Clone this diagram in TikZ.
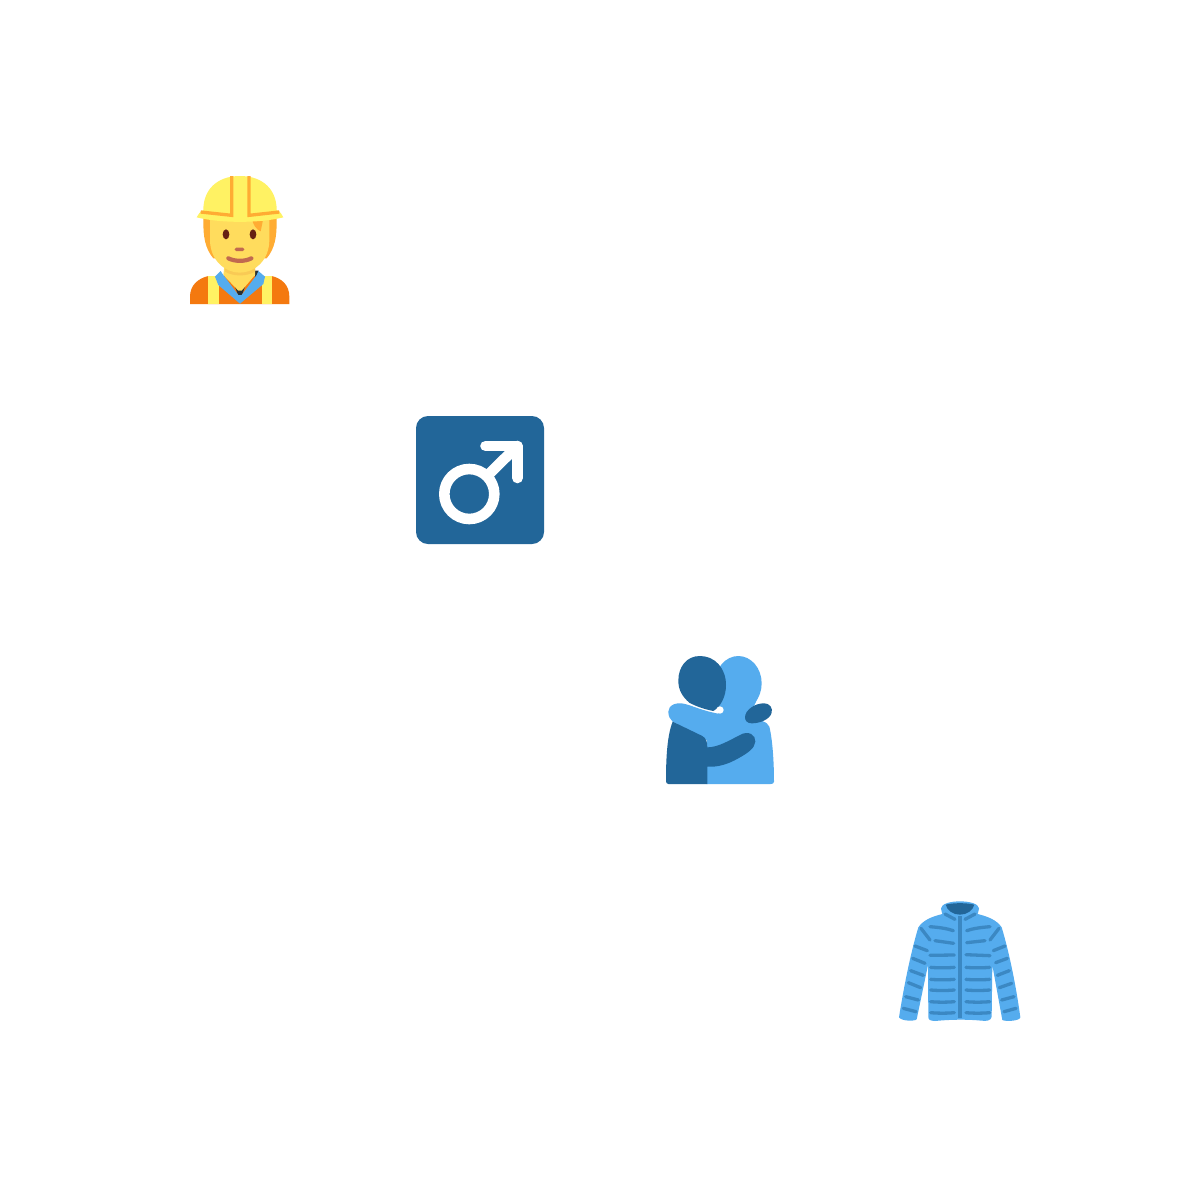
\documentclass[tikz,border=0pt]{standalone}
\usepackage{tikz}
\definecolor{helmetyellow}{HTML}{FFF263}
\definecolor{hairorange}{HTML}{FFAC33}
\definecolor{skinyellow}{HTML}{FFDC5D}
\definecolor{chinshade}{HTML}{F9CA55}
\definecolor{vestorange}{HTML}{F4790F}
\definecolor{eyebrown}{HTML}{662113}
\definecolor{lipbrown}{HTML}{C1694F}
\definecolor{shirtdark}{HTML}{292F33}
\definecolor{darkblue}{HTML}{226699}
\definecolor{lightblue}{HTML}{55ACEE}
\definecolor{jacketline}{HTML}{3B88C3}
\tikzset{%
    icon/.style={shift={#1},scale=1/3},
    stripe/.style={draw=hairorange, line width=3.3pt},
    seam/.style={draw=jacketline, line width=3.3pt, line cap=round},
    sign/.style={draw=white, line width=10.6pt, line cap=round, line join=round}
}

\begin{document}
\begin{tikzpicture}[x=1pt,y=-1pt]
		\useasboundingbox (0,0) rectangle (1200,1200);
		\fill[white] (0,0) rectangle (1200,1200);

		% worker
		\begin{scope}[icon={(170,160)}]
			\fill[vestorange] (60,432) -- (60,410) .. controls (60,375) and (85,355) .. (115,348) -- (305,348) .. controls (335,355) and (358,375) .. (358,410) -- (358,432) -- cycle;
			\fill[helmetyellow] (113,348) rectangle (146,432);
			\fill[helmetyellow] (275,348) rectangle (307,432);
			\fill[shirtdark] (195,380) -- (225,380) -- (215,408) -- (205,408) -- cycle;
			\fill[shirtdark] (250,332) -- (266,332) -- (258,358) -- cycle;
			\fill[skinyellow] (165,300) -- (255,300) -- (255,345) -- (215,392) -- (205,392) -- (160,345) -- cycle;
			\fill[lightblue] (135,350) -- (152,333) -- (160,345) -- (205,405) -- (215,405) -- (260,345) -- (265,333) -- (285,350) -- (280,372) -- (210,431) -- (145,375) -- cycle;
			\fill[hairorange] (100,165) -- (100,185) .. controls (100,230) and (105,265) .. (130,295) -- (290,295) .. controls (315,265) and (320,230) .. (320,185) -- (320,165) -- cycle;
			\fill[chinshade] (165,325) -- (255,325) -- (255,335) .. controls (230,350) and (190,350) .. (165,335) -- cycle;
			\fill[skinyellow] (120,165) -- (120,240) .. controls (120,300) and (165,338) .. (209,338) .. controls (255,338) and (298,300) .. (298,240) -- (298,165) -- cycle;
			\fill[hairorange] (245,175) .. controls (250,195) and (258,208) .. (272,214) -- (280,175) -- cycle;
			\fill[eyebrown] (168,223) ellipse (10 and 15);
			\fill[eyebrown] (249,223) ellipse (10 and 15);
			\fill[lipbrown, rounded corners=1.5pt] (194,263) rectangle (223,273);
			\draw[draw=lipbrown, line width=4.2pt, line cap=round] (175,295) .. controls (195,305) and (225,305) .. (244,295);
			\fill[helmetyellow] (80,172) .. controls (85,162) and (90,155) .. (100,150) .. controls (100,90) and (140,48) .. (210,48) .. controls (280,48) and (320,90) .. (320,150) .. controls (330,155) and (336,162) .. (340,172) .. controls (270,190) and (150,190) .. (80,172) -- cycle;
			\draw[stripe] (185,48) -- (185,166) -- (92,156);
			\draw[stripe] (237,48) -- (237,166) -- (328,156);
		\end{scope}

		% male sign
		\fill[darkblue, rounded corners=12pt] (416,416) rectangle (544,544);
		\draw[sign] (469.3,494) circle (25);
		\draw[sign] (487,476) -- (517.4,446);
		\draw[sign] (485.5,446) -- (517.4,446) -- (517.4,478);

		% people hugging
		\begin{scope}[icon={(650,640)}]
			\fill[lightblue] (265,130) ellipse (70 and 82);
			\fill[lightblue] (205,150) -- (325,170) -- (295,235) -- (205,235) -- cycle;
			\fill[lightblue] (55,215) .. controls (55,195) and (80,185) .. (105,192) .. controls (130,198) and (155,212) .. (210,222) -- (300,232) .. controls (330,240) and (352,245) .. (358,260) .. controls (368,300) and (372,370) .. (372,425) .. controls (372,430) and (368,432) .. (362,432) -- (170,432) -- (170,300) -- (68,245) .. controls (60,238) and (55,228) .. (55,215) -- cycle;
			\fill[darkblue] (55,432) .. controls (50,432) and (48,428) .. (48,422) .. controls (48,350) and (52,285) .. (68,245) -- (155,287) .. controls (168,293) and (172,305) .. (172,322) .. controls (205,322) and (240,300) .. (270,285) .. controls (295,270) and (318,285) .. (316,305) .. controls (314,325) and (295,338) .. (265,355) .. controls (235,372) and (205,382) .. (172,380) -- (172,432) -- cycle;
			\fill[darkblue] (150,48) .. controls (195,48) and (228,85) .. (228,135) .. controls (228,170) and (212,200) .. (190,213) .. controls (165,208) and (140,200) .. (118,188) .. controls (97,170) and (85,150) .. (85,122) .. controls (85,80) and (110,48) .. (150,48) -- cycle;
			\fill[white] (210,210) circle (11);
			\fill[darkblue] (285,232) .. controls (285,210) and (315,190) .. (340,190) .. controls (362,190) and (368,205) .. (365,218) .. controls (360,238) and (330,250) .. (305,250) .. controls (292,250) and (285,242) .. (285,232) -- cycle;
		\end{scope}

		% jacket
		\begin{scope}[icon={(885,890)}]
			\fill[lightblue] (168,55) .. controls (170,27) and (280,27) .. (282,55) .. controls (282,62) and (278,68) .. (278,72) .. controls (310,80) and (335,90) .. (350,112) .. controls (375,195) and (395,300) .. (406,382) .. controls (405,392) and (365,396) .. (352,390) -- (322,225) -- (320,380) .. controls (318,392) and (305,394) .. (290,392) .. controls (250,388) and (200,388) .. (150,393) .. controls (135,392) and (130,390) .. (130,380) -- (129,225) -- (95,388) .. controls (90,394) and (50,394) .. (42,382) .. controls (55,300) and (75,195) .. (100,112) .. controls (115,90) and (140,80) .. (172,72) .. controls (172,68) and (168,62) .. (168,55) -- cycle;
			\fill[darkblue] (182,44) .. controls (205,38) and (245,38) .. (268,44) .. controls (264,62) and (245,74) .. (225,74) .. controls (205,74) and (186,62) .. (182,44) -- cycle;
			\draw[seam, line width=4pt, line cap=butt] (225,78) -- (225,384);
			\draw[seam] (180,72) -- (210,88);
			\draw[seam] (270,72) -- (240,88);
			\draw[seam] (135,110) .. controls (160,112) and (185,115) .. (205,122);
			\draw[seam] (315,110) .. controls (290,112) and (265,115) .. (245,122);
			\draw[seam] (150,152) -- (206,160);
			\draw[seam] (300,152) -- (245,158);
			\draw[seam] (135,196) -- (208,195);
			\draw[seam] (243,194) -- (315,197);
			\foreach \rowy in {232,268,300,335,368} {
				\draw[seam] (137,\rowy) .. controls (160,\rowy+2) and (185,\rowy+2) .. (208,\rowy);
				\draw[seam] (243,\rowy) .. controls (265,\rowy+2) and (290,\rowy+2) .. (314,\rowy);
			}
			\draw[seam] (108,115) -- (135,150);
			\draw[seam] (342,115) -- (315,150);
			\foreach \ax/\ay/\bx/\by in {90/168/127/182,83/205/120/220,77/242/115/256,70/278/107/293,62/320/100/330,55/355/93/365,360/168/325/182,367/205/332/218,373/242/337/256,380/280/343/293,387/320/350/330,393/355/357/365} {
				\draw[seam] (\ax,\ay) -- (\bx,\by);
			}
		\end{scope}
	\end{tikzpicture}
\end{document}
